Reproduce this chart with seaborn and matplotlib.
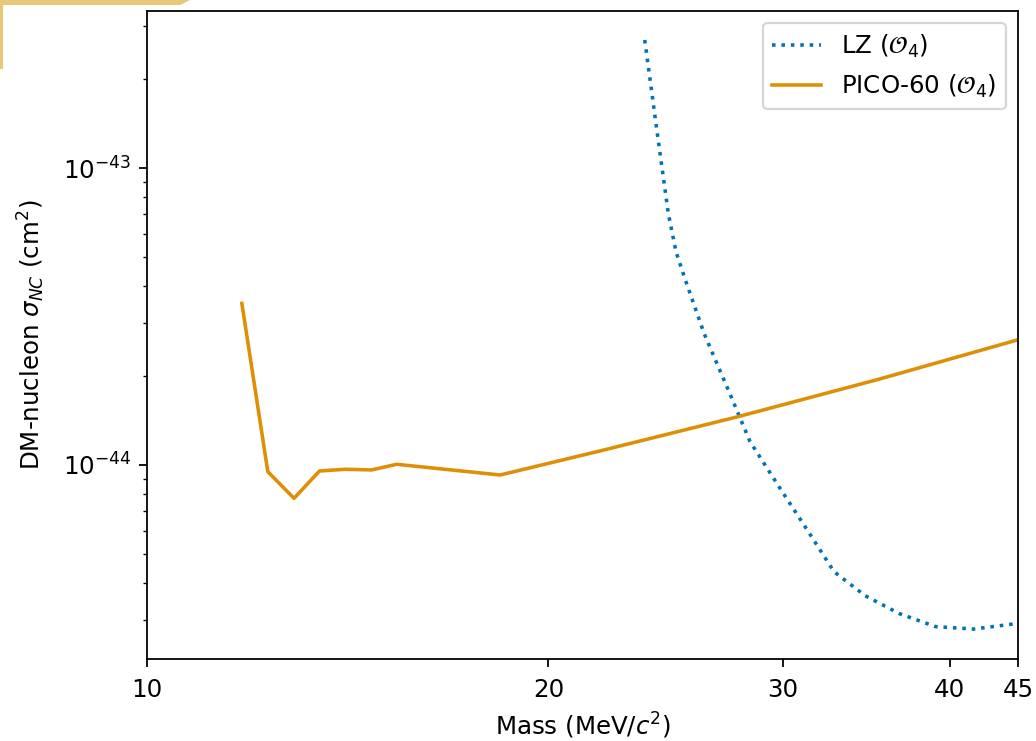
import numpy as np
import pandas as pd
import matplotlib
matplotlib.use("Agg")
import matplotlib.pyplot as plt
import seaborn as sns
from matplotlib.ticker import FixedLocator, ScalarFormatter, NullLocator
from matplotlib.patches import Polygon

# ---- data ----
lz_mass = [23.62, 24.10, 24.60, 24.93, 25.32, 26.18, 27.42, 28.33, 29.89,
           31.27, 32.75, 34.55, 36.64, 39.02, 41.67, 44.56, 45.0]
lz_sigma = [2.70e-43, 1.378e-43, 7.04e-44, 5.23e-44, 4.23e-44, 2.76e-44,
            1.698e-44, 1.198e-44, 8.24e-45, 6.04e-45, 4.37e-45, 3.63e-45,
            3.16e-45, 2.855e-45, 2.80e-45, 2.91e-45, 2.93e-45]

pico_mass = [11.78, 12.32, 12.89, 13.47, 14.08, 14.74, 15.39, 18.40,
             21.87, 27.75, 35.45, 45.0]
pico_sigma = [3.50e-44, 9.49e-45, 7.72e-45, 9.54e-45, 9.67e-45, 9.62e-45,
              1.005e-44, 9.25e-45, 1.115e-44, 1.454e-44, 1.948e-44, 2.64e-44]

x_ticks = [10, 20, 30, 40, 45]
labels = [r"LZ ($\mathcal{O}_4$)", r"PICO-60 ($\mathcal{O}_4$)"]

pal = sns.color_palette("colorblind")
blue, orange = pal[0], pal[1]

plt.rcParams["font.family"] = ["DejaVu Sans"]
plt.rcParams["font.size"] = 11

fig = plt.figure(figsize=(1036 / 160, 741 / 160), dpi=160)
ax = fig.add_axes([147 / 1036, 1 - 659 / 741, (1018 - 147) / 1036, (659 - 11) / 741])

sns.lineplot(x=lz_mass, y=lz_sigma, ax=ax, color=blue, linestyle=":",
             linewidth=1.6, label=labels[0])
sns.lineplot(x=pico_mass, y=pico_sigma, ax=ax, color=orange, linestyle="-",
             linewidth=1.6, label=labels[1])

ax.set_xscale("log")
ax.set_yscale("log")
ax.set_xlim(10, 45)
ax.set_ylim(2.22e-45, 3.38e-43)

ax.xaxis.set_major_locator(FixedLocator(x_ticks))
fmt = ScalarFormatter()
fmt.set_scientific(False)
ax.xaxis.set_major_formatter(fmt)
ax.xaxis.set_minor_locator(NullLocator())
ax.tick_params(axis="x", pad=5)

ax.set_xlabel(r"Mass (MeV/$c^2$)", labelpad=4)
ax.set_ylabel(r"DM-nucleon $\sigma_{NC}$ (cm$^2$)", labelpad=7)

ax.legend(loc="upper right")

# decorative screenshot border fragment in the top-left corner
W, H = 1036, 741
pts_px = [(0, 0), (190, 0), (180, 5), (3, 5), (3, 69), (0, 69)]
pts = [(x / W, 1 - y / H) for x, y in pts_px]
fig.patches.append(Polygon(pts, closed=True, transform=fig.transFigure,
                           facecolor="#E8C777", edgecolor="none"))

fig.savefig("out.png", dpi=160)
